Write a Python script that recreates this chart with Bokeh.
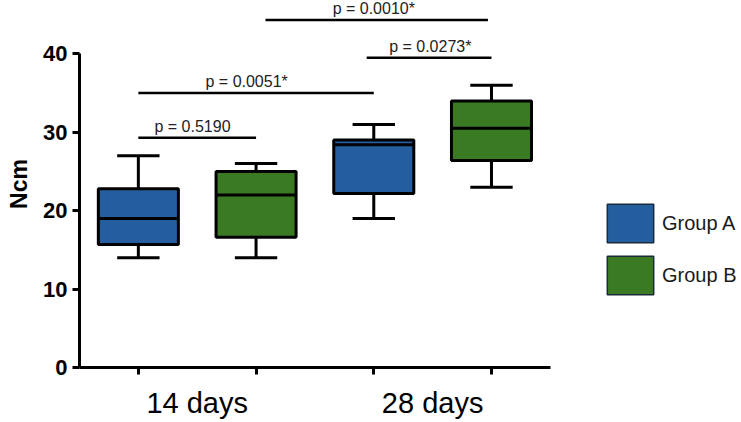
from bokeh.plotting import figure
from bokeh.models import (ColumnDataSource, Range1d, FixedTicker, Legend, LegendItem)
from bokeh.core.properties import value
from bokeh.embed import file_html
from bokeh.resources import INLINE

# Torque values (Ncm) per time point and group
timepoints = ["14 days", "28 days"]
groups = ["Group A", "Group B"]
whisker_low = [14, 14, 19, 23]
box_low = [15.7, 16.6, 22.2, 26.4]
medians = [19, 22, 28.4, 30.5]
box_high = [22.8, 25, 29, 34]
whisker_high = [27, 26, 31, 36]

group_colors = {"Group A": "#245E9E", "Group B": "#3A7A22"}

# Pairwise comparisons: bar start/end (box slot), bar height, p-value text
cmp_from = [1.0, 1.0, 2.08, 2.94]
cmp_to = [2.0, 3.0, 3.97, 4.0]
cmp_height = [29.3, 35.0, 44.3, 39.5]
cmp_labels = ["p = 0.5190", "p = 0.0051*", "p = 0.0010*", "p = 0.0273*"]
cmp_label_x = [1.46, 1.92, 3.0, 3.48]

# one slot per (time point, group) box
slot = [i * len(groups) + j + 1 for i in range(len(timepoints)) for j in range(len(groups))]
slot_group = [g for _ in timepoints for g in groups]
time_centers = [i * len(groups) + (len(groups) + 1) / 2 for i in range(len(timepoints))]

p = figure(width=741, height=422, x_range=Range1d(0.5, 6.124), y_range=Range1d(0, 46.8),
           output_backend="svg", toolbar_location=None,
           min_border_left=79, min_border_right=0, min_border_top=0,
           min_border_bottom=55)
p.outline_line_color = None
p.grid.visible = False
p.background_fill_color = "white"
p.border_fill_color = "white"

src = ColumnDataSource(dict(
    x=slot, wlo=whisker_low, blo=box_low, med=medians, bhi=box_high,
    whi=whisker_high, color=[group_colors[g] for g in slot_group]))

lw = 3
# whisker stems
p.segment(x0="x", x1="x", y0="wlo", y1="blo", source=src, line_color="black", line_width=lw)
p.segment(x0="x", x1="x", y0="bhi", y1="whi", source=src, line_color="black", line_width=lw)
# whisker caps
p.vbar(x="x", bottom="wlo", top="wlo", width=0.36, source=src, line_color="black", line_width=lw)
p.vbar(x="x", bottom="whi", top="whi", width=0.36, source=src, line_color="black", line_width=lw)
# boxes
p.vbar(x="x", bottom="blo", top="bhi", width=0.68, source=src, fill_color="color",
       line_color="black", line_width=lw)
# medians
p.vbar(x="x", bottom="med", top="med", width=0.68, source=src, line_color="black", line_width=lw)

# comparison bars and p-values
csrc = ColumnDataSource(dict(x0=cmp_from, x1=cmp_to, y=cmp_height,
                             label=cmp_labels, lx=cmp_label_x))
p.segment(x0="x0", x1="x1", y0="y", y1="y", source=csrc, line_color="black", line_width=2.5)
p.text(x="lx", y="y", text="label", source=csrc, text_align="center",
       text_baseline="bottom", y_offset=-3, text_font=value("Liberation Sans"),
       text_font_size="16px", text_color="#222222")

# y axis
yax = p.yaxis[0]
yax.bounds = (0, 40)
yax.ticker = FixedTicker(ticks=[0, 10, 20, 30, 40])
yax.axis_label = "Ncm"
yax.axis_label_text_font = "Liberation Sans"
yax.axis_label_text_font_style = "bold"
yax.axis_label_text_font_size = "23px"
yax.axis_label_text_color = "black"
yax.axis_label_standoff = 8
yax.major_label_text_font = "Liberation Sans"
yax.major_label_text_font_style = "bold"
yax.major_label_text_font_size = "22px"
yax.major_label_text_color = "black"
yax.major_label_standoff = 5
yax.axis_line_width = lw
yax.major_tick_line_width = lw
yax.major_tick_out = 7
yax.major_tick_in = 0
yax.minor_tick_line_color = None

# x axis: time point labels on major ticks, a minor tick under every box
xax = p.xaxis[0]
xax.bounds = (0.5, 4.5)
xax.ticker = FixedTicker(ticks=time_centers, minor_ticks=slot)
xax.major_label_overrides = {c: t for c, t in zip(time_centers, timepoints)}
xax.axis_line_width = lw
xax.major_tick_line_color = None
xax.major_tick_out = 7
xax.major_tick_in = 0
xax.minor_tick_line_color = "black"
xax.minor_tick_line_width = lw
xax.minor_tick_out = 7
xax.minor_tick_in = 0
xax.major_label_standoff = 12
xax.major_label_text_font = "Liberation Sans"
xax.major_label_text_font_size = "29px"
xax.major_label_text_color = "black"

# legend swatches (no visible marks of their own)
nan = float("nan")
leg_a = p.vbar(x=[nan], bottom=[nan], top=[nan], width=0.5,
               fill_color=group_colors["Group A"], line_color="#1a2a3a", line_width=1.5)
leg_b = p.vbar(x=[nan], bottom=[nan], top=[nan], width=0.5,
               fill_color=group_colors["Group B"], line_color="#1a2a3a", line_width=1.5)
legend = Legend(items=[LegendItem(label="Group A", renderers=[leg_a]),
                       LegendItem(label="Group B", renderers=[leg_b])],
                location=(522, 68), glyph_width=58, glyph_height=48, spacing=4,
                label_standoff=3, label_text_font="Liberation Sans",
                label_text_font_size="20px", label_text_color="#1a1a1a",
                padding=0, margin=0, border_line_alpha=0, background_fill_alpha=0)
p.add_layout(legend, "center")

open("out.html", "w").write(file_html(p, INLINE))
